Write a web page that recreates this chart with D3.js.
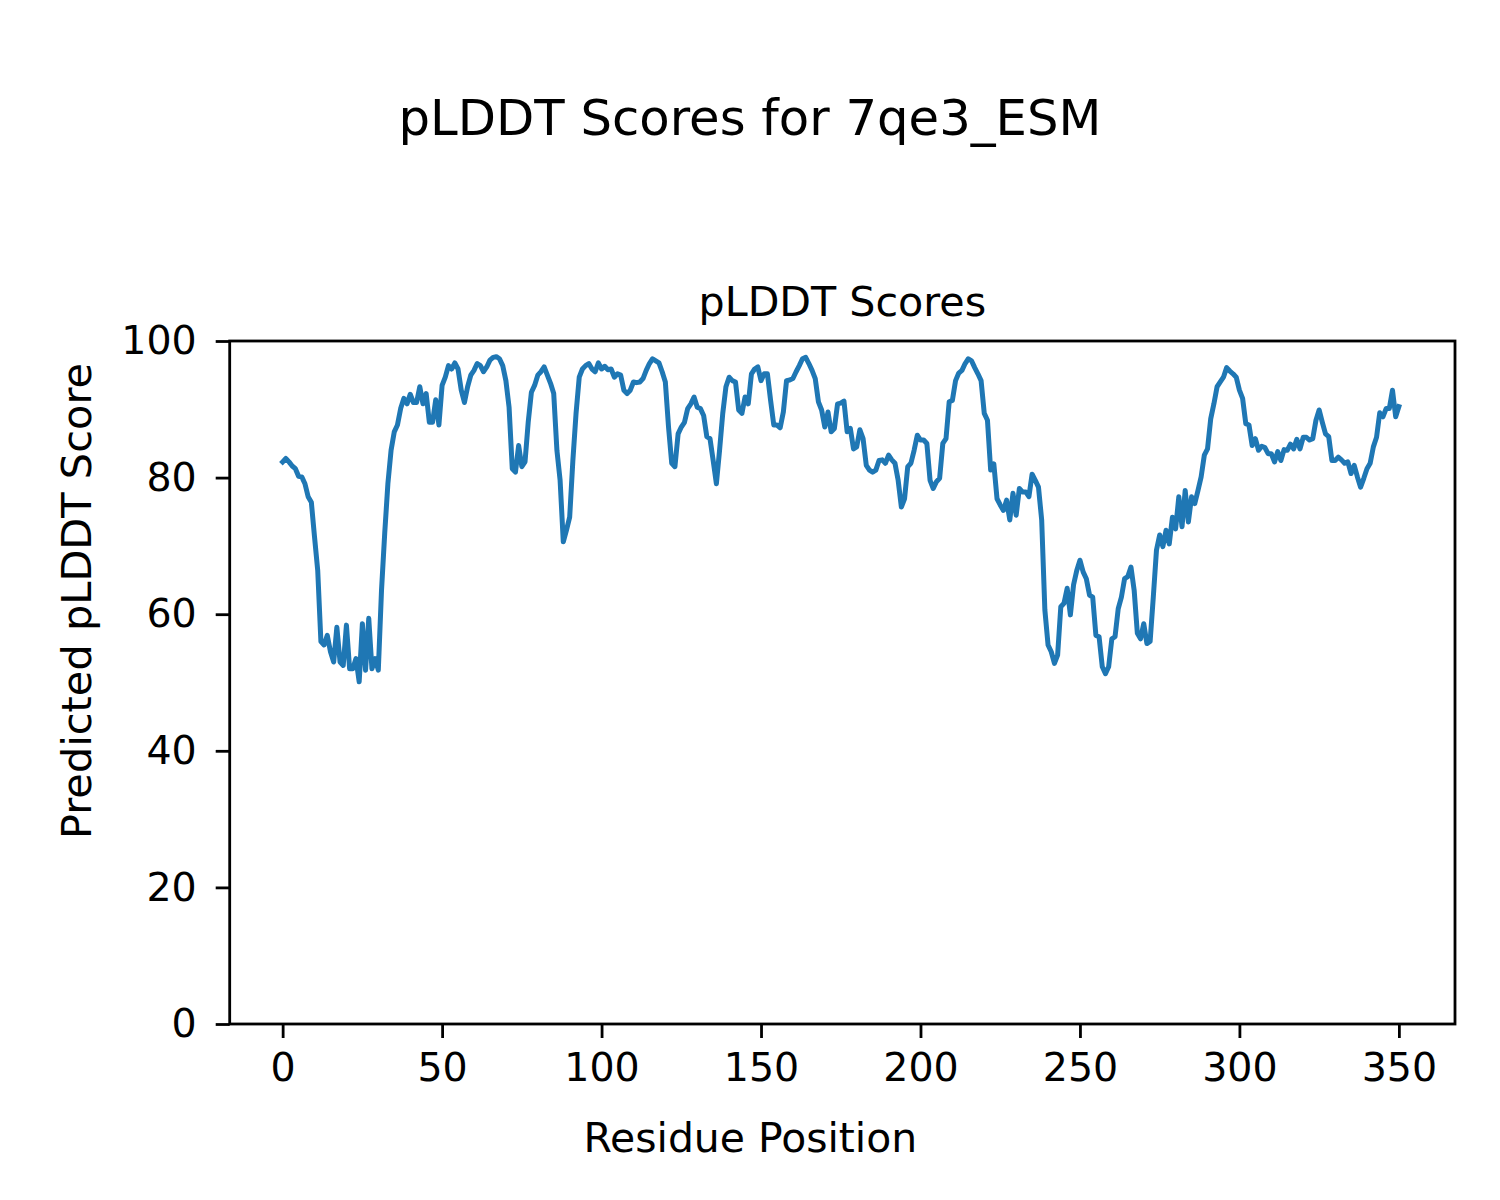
<!DOCTYPE html>
<html>
<head>
<meta charset="utf-8">
<script src="https://cdn.jsdelivr.net/npm/d3@7"></script>
<style>
  html, body { margin: 0; padding: 0; background: #fff; }
  svg { display: block; font-family: "DejaVu Sans", sans-serif; }
</style>
</head>
<body>
<svg id="chart" width="1500" height="1200"></svg>
<script>
// ---- data ----
const figureTitle = "pLDDT Scores for 7qe3_ESM";
const axesTitle = "pLDDT Scores";
const xLabel = "Residue Position";
const yLabel = "Predicted pLDDT Score";
const xTicks = [0, 50, 100, 150, 200, 250, 300, 350];
const yTicks = [0, 20, 40, 60, 80, 100];
const plddt = [
  82.3, 82.8, 82.3, 81.7, 81.3, 80.2, 80.1, 79.1, 77.2, 76.4,
  71.3, 66.4, 56.0, 55.5, 56.9, 54.5, 53.0, 58.1, 53.0, 52.5,
  58.4, 52.0, 52.0, 53.5, 50.1, 58.6, 51.8, 59.4, 52.0, 53.5,
  51.8, 63.5, 71.8, 79.1, 84.0, 86.7, 87.7, 90.1, 91.6, 90.8,
  92.2, 91.0, 91.0, 93.3, 90.8, 92.3, 88.1, 88.1, 91.4, 87.7,
  93.5, 94.7, 96.4, 95.9, 96.8, 95.9, 92.8, 91.0, 93.3, 95.0,
  95.7, 96.7, 96.4, 95.5, 96.2, 97.2, 97.6, 97.7, 97.4, 96.4,
  94.2, 90.3, 81.3, 80.8, 84.7, 81.6, 82.3, 88.1, 92.5, 93.5,
  95.0, 95.5, 96.2, 95.0, 93.8, 92.3, 84.0, 79.6, 70.6, 72.3,
  74.2, 82.5, 89.4, 94.7, 95.9, 96.4, 96.7, 95.9, 95.5, 96.8,
  95.9, 96.3, 95.8, 95.9, 94.7, 95.2, 95.0, 92.8, 92.3, 92.8,
  94.0, 93.9, 94.0, 94.5, 95.7, 96.7, 97.4, 97.1, 96.8, 95.5,
  94.0, 87.4, 82.1, 81.6, 86.4, 87.4, 88.1, 90.1, 90.8, 91.8,
  90.3, 90.1, 89.1, 86.0, 85.7, 82.5, 79.1, 84.0, 89.4, 93.3,
  94.7, 94.2, 94.0, 89.9, 89.4, 91.8, 90.8, 95.2, 95.9, 96.2,
  94.2, 95.2, 95.2, 91.3, 87.7, 87.7, 87.3, 89.6, 94.2, 94.3,
  94.5, 95.5, 96.4, 97.4, 97.6, 96.7, 95.7, 94.5, 91.1, 89.9,
  87.4, 89.6, 86.7, 87.2, 90.8, 90.9, 91.2, 86.7, 87.2, 84.2,
  84.5, 87.0, 85.7, 81.8, 81.1, 80.8, 81.1, 82.5, 82.6, 82.1,
  83.3, 82.6, 82.1, 79.6, 75.7, 76.9, 81.6, 82.1, 84.0, 86.2,
  85.5, 85.5, 85.0, 79.6, 78.4, 79.4, 79.9, 85.0, 85.7, 91.1,
  91.3, 94.2, 95.3, 95.7, 96.7, 97.4, 97.1, 96.1, 95.2, 94.2,
  89.4, 88.4, 81.1, 82.0, 76.9, 76.0, 75.2, 76.7, 73.8, 77.7,
  74.5, 78.4, 77.9, 77.9, 77.2, 80.5, 79.6, 78.6, 73.8, 60.6,
  55.5, 54.5, 52.8, 54.0, 61.1, 61.6, 63.8, 59.9, 64.3, 66.4,
  67.9, 66.2, 65.2, 62.8, 62.5, 56.9, 56.7, 52.3, 51.3, 52.3,
  56.4, 56.7, 60.8, 62.5, 65.2, 65.5, 66.9, 63.5, 57.2, 56.4,
  58.6, 55.7, 56.0, 62.5, 69.4, 71.6, 69.9, 72.3, 70.3, 74.2,
  72.5, 77.2, 72.8, 78.1, 73.5, 77.2, 76.2, 78.1, 80.1, 83.3,
  84.2, 88.6, 90.8, 93.3, 94.0, 94.7, 96.1, 95.6, 95.2, 94.7,
  92.8, 91.6, 87.9, 87.7, 84.7, 85.7, 84.0, 84.6, 84.4, 83.5,
  83.5, 82.3, 83.8, 82.5, 84.1, 84.0, 84.9, 84.2, 85.6, 84.2,
  85.9, 85.9, 85.5, 85.7, 88.4, 89.9, 88.1, 86.4, 86.0, 82.5,
  82.5, 83.0, 82.6, 82.1, 82.3, 80.6, 81.8, 80.1, 78.6, 79.9,
  81.3, 82.1, 84.5, 85.9, 89.5, 88.9, 90.1, 90.1, 92.8, 88.9, 90.4
];
const residues = plddt.map((_, i) => i);

// ---- layout ----
const L = 229.7, R = 1455, T = 341, B = 1024;
const svg = d3.select("#chart");
svg.append("rect").attr("width", 1500).attr("height", 1200).attr("fill", "#fff");

const x = d3.scaleLinear().domain([-16.6, 367.6]).range([L, R]);
const y = d3.scaleLinear().domain([0, 100]).range([B, T]);

const tickFont = 39.5;

// line
const line = d3.line().x((d, i) => x(residues[i])).y(d => y(d));
svg.append("path")
  .datum(plddt)
  .attr("d", line)
  .attr("fill", "none")
  .attr("stroke", "#1f77b4")
  .attr("stroke-width", 5)
  .attr("stroke-linejoin", "round")
  .attr("stroke-linecap", "square");

// axes
const xAxis = svg.append("g").attr("transform", `translate(0,${B})`)
  .call(d3.axisBottom(x).tickValues(xTicks).tickSize(14).tickPadding(15).tickFormat(d3.format("d")));
const yAxis = svg.append("g").attr("transform", `translate(${L},0)`)
  .call(d3.axisLeft(y).tickValues(yTicks).tickSize(14).tickPadding(19).tickFormat(d3.format("d")));
[xAxis, yAxis].forEach(g => {
  g.select(".domain").remove();
  g.selectAll(".tick line").attr("stroke", "#000").attr("stroke-width", 2.8);
  g.selectAll(".tick text").attr("fill", "#000")
    .style("font-size", tickFont + "px")
    .style("font-family", "'DejaVu Sans', sans-serif");
});

// frame
svg.append("rect")
  .attr("x", L).attr("y", T).attr("width", R - L).attr("height", B - T)
  .attr("fill", "none").attr("stroke", "#000").attr("stroke-width", 2.8);

// texts
svg.append("text").attr("x", 750).attr("y", 135).attr("text-anchor", "middle")
  .style("font-size", "49.7px").text(figureTitle);
svg.append("text").attr("x", (L + R) / 2).attr("y", 316).attr("text-anchor", "middle")
  .style("font-size", "41.2px").text(axesTitle);
svg.append("text").attr("x", (L + R) / 2 - 92).attr("y", 1152).attr("text-anchor", "middle")
  .style("font-size", "40.9px").text(xLabel);
svg.append("text").attr("transform", "translate(90.7,601) rotate(-90)").attr("text-anchor", "middle")
  .style("font-size", "41.5px").text(yLabel);
</script>
</body>
</html>
